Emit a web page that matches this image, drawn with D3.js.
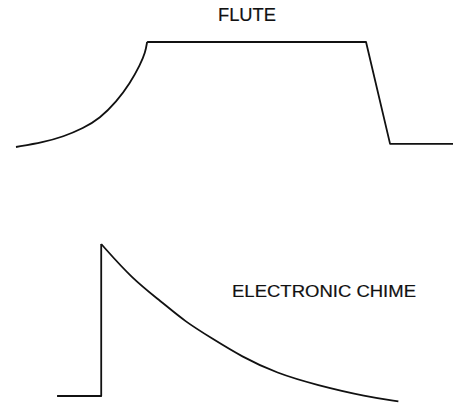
<!DOCTYPE html>
<html>
<head>
<meta charset="utf-8">
<script src="https://cdn.jsdelivr.net/npm/d3@7"></script>
<style>
  body { margin: 0; background: #fff; }
  svg { display: block; }
  .label { font-family: "Liberation Sans", Arial, sans-serif; fill: #111; stroke: #111; stroke-width: 0.2; }
  .env { fill: none; stroke: #111; stroke-width: 1.8; stroke-linejoin: round; }
</style>
</head>
<body>
<div id="container"><svg></svg></div>
<script>
let width = 453;
let height = 405;

// time (0..100) and amplitude (0..1)
let flute_attack_t = [0, 6.25, 10.8, 15.4, 19.2, 23.0, 26.1, 28.4, 29.6, 30.0];
let flute_attack_a = [0, 0.045, 0.098, 0.178, 0.273, 0.431, 0.607, 0.781, 0.9, 1.0];
let flute_rest_t = [30.0, 80.1, 85.6, 100];
let flute_rest_a = [1.0, 1.0, 0.03, 0.03];

let chime_rise_t = [9.4, 19.5, 19.5];
let chime_rise_a = [0, 0, 1.0];
let chime_decay_t = [19.5, 26.5, 33.3, 38.7, 44.8, 51.6, 59.7, 68.8, 80.3, 87.5];
let chime_decay_a = [1.0, 0.774, 0.62, 0.489, 0.38, 0.259, 0.149, 0.072, -0.005, -0.035];

let labels = ['FLUTE', 'ELECTRONIC CHIME'];

function zip(ts, as) {
    return ts.map((t, i) => [t, as[i]]);
}

function draw_main() {
    let svg = d3.select('#container').select('svg')
        .attr('width', width)
        .attr('height', height);

    let x = d3.scaleLinear().domain([0, 100]).range([16, 453]);
    let y_flute = d3.scaleLinear().domain([0, 1]).range([147, 42]);
    let y_chime = d3.scaleLinear().domain([0, 1]).range([396, 244]);

    let curved = y => d3.line().x(d => x(d[0])).y(d => y(d[1])).curve(d3.curveBasis);
    let straight = y => d3.line().x(d => x(d[0])).y(d => y(d[1]));

    // flute envelope
    svg.append('path').attr('class', 'env')
        .attr('d', curved(y_flute)(zip(flute_attack_t, flute_attack_a)));
    svg.append('path').attr('class', 'env')
        .attr('d', straight(y_flute)(zip(flute_rest_t, flute_rest_a)));

    // chime envelope
    svg.append('path').attr('class', 'env')
        .attr('d', straight(y_chime)(zip(chime_rise_t, chime_rise_a)));
    svg.append('path').attr('class', 'env')
        .attr('d', curved(y_chime)(zip(chime_decay_t, chime_decay_a)));

    svg.append('text').attr('class', 'label')
        .attr('x', 218).attr('y', 21)
        .attr('font-size', 18)
        .attr('textLength', 58)
        .attr('lengthAdjust', 'spacingAndGlyphs')
        .text(labels[0]);

    svg.append('text').attr('class', 'label')
        .attr('x', 232).attr('y', 297)
        .attr('font-size', 16.7)
        .attr('textLength', 184)
        .attr('lengthAdjust', 'spacingAndGlyphs')
        .text(labels[1]);
}

draw_main();
</script>
</body>
</html>
